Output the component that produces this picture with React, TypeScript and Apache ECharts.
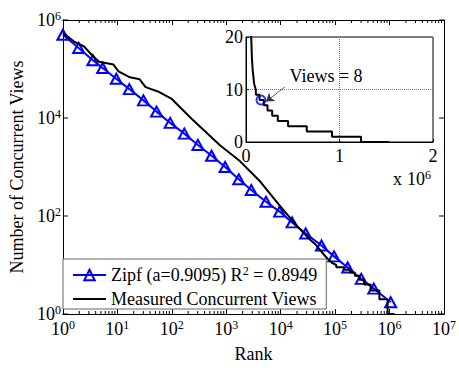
import React, { useEffect, useRef } from 'react';
import * as echarts from 'echarts';

const FONT = "'Liberation Serif', 'Times New Roman', Times, serif";

// Zipf fit (markers)
const zipfRank = [1, 1.95, 3.55, 5.37, 9.55, 16.6, 30.2, 52.5, 93.3, 170, 302, 537, 955, 1700, 2880, 5370, 9550, 16200, 28800, 56200, 95500, 170000, 302000, 513000, 1047000];
const zipfViews = [501000, 269000, 151000, 105000, 63100, 38900, 22900, 13500, 7940, 4790, 2820, 1700, 1000, 562, 339, 195, 123, 74, 44, 25, 15, 8.9, 5.2, 3.3, 1.74];

// Measured concurrent views
const measuredRank = [1, 1.6, 2.45, 3.3, 4.6, 8.5, 10.5, 17, 25.7, 33, 59, 100, 151, 229, 389, 776, 1780, 4070, 9120, 18600, 35500, 42700, 63100, 72400, 88000, 105000, 105000, 145000, 145000, 190000, 190000, 230000, 230000, 280000, 280000, 340000, 340000, 450000, 450000, 650000, 650000, 920000, 920000, 1230000, 1230000, 1530000];
const measuredViews = [550000, 363000, 288000, 200000, 141000, 123000, 89000, 67600, 61700, 42700, 33900, 24500, 15500, 9770, 5620, 2750, 1320, 525, 174, 68, 32, 27, 16, 13.5, 11, 10, 9, 9, 8, 8, 7, 7, 6, 6, 5, 5, 4, 4, 3, 3, 2, 2, 1, 1, 0, 0];

// highlighted point in the inset
const highlightRank = [160000];
const highlightViews = [8];

// ticks
const minorMultipliers = [2, 3, 4, 5, 6, 7, 8, 9];
const decades = [1, 10, 100, 1000, 10000, 100000, 1000000];
const yTickValues = [1, 100, 10000, 1000000];
const insetXTicks = ['0', '1', '2'];

const zipfName = 'Zipf (a=0.9095) R² = 0.8949';
const measuredName = 'Measured Concurrent Views';

const rich = {
  b: { fontFamily: FONT, fontSize: 18, lineHeight: 20, color: '#000' },
  t: { fontFamily: FONT, fontSize: 18, lineHeight: 20, color: '#000' },
  x: { fontFamily: FONT, fontSize: 18, lineHeight: 20, color: '#000', padding: [0, 5, 0, 0] },
  s: { fontFamily: FONT, fontSize: 12, lineHeight: 12, verticalAlign: 'top', color: '#000' },
};

function logLabel(v: number) {
  const e = Math.round(Math.log10(v));
  return `{b|10}{s|${e}}`;
}

export default function App() {
  const ref = useRef<HTMLDivElement>(null);
  useEffect(() => {
    if (!ref.current) return;
    const chart = echarts.init(ref.current, null, { renderer: 'svg' });

    const zipfData = zipfRank.map((r, i) => [r, zipfViews[i]]);
    const measuredMain = measuredRank
      .map((r, i) => [r, measuredViews[i]])
      .filter((p) => p[1] > 0);
    const measuredInset = measuredRank
      .map((r, i) => [r, measuredViews[i]])
      .filter((p) => p[0] >= 35000);
    const minorTicks: number[][] = [];
    decades.forEach((d) => minorMultipliers.forEach((m) => minorTicks.push([m * d, 1])));

    const option: any = {
      animation: false,
      backgroundColor: '#fff',
      textStyle: { fontFamily: FONT },
      grid: [
        { left: 58, top: 20, width: 392, height: 298, show: false },
        {
          left: 246, top: 37, width: 187, height: 105, show: true,
          backgroundColor: '#fff', borderColor: '#000', borderWidth: 1, z: 3,
        },
      ],
      xAxis: [
        {
          type: 'log', gridIndex: 0, min: 1, max: 1e7, position: 'bottom',
          name: 'Rank', nameLocation: 'middle', nameGap: 31,
          nameTextStyle: { fontFamily: FONT, fontSize: 18, color: '#000' },
          axisLine: { lineStyle: { color: '#000', width: 1 } },
          axisTick: { inside: true, length: 5, lineStyle: { color: '#000' } },
          splitLine: { show: false },
          axisLabel: { formatter: logLabel, rich, margin: 5 },
        },
        {
          type: 'log', gridIndex: 0, min: 1, max: 1e7, position: 'top',
          axisLine: { lineStyle: { color: '#000', width: 1 } },
          axisTick: { inside: true, length: 5, lineStyle: { color: '#000' } },
          splitLine: { show: false },
          axisLabel: { show: false },
        },
        {
          type: 'value', gridIndex: 1, min: 0, max: 2000000, interval: 1000000,
          axisLine: { lineStyle: { color: '#000', width: 1 } },
          axisTick: { inside: true, length: 3, lineStyle: { color: '#000' } },
          splitLine: { show: true, lineStyle: { type: 'dotted', color: '#777', width: 1 } },
          axisLabel: {
            formatter: (v: number) => insetXTicks[Math.round(v / 1000000)] ?? '',
            fontFamily: FONT, fontSize: 18, color: '#000', margin: 5,
          },
          z: 4,
        },
      ],
      yAxis: [
        {
          type: 'log', gridIndex: 0, min: 1, max: 1e6, position: 'left',
          name: 'Number of Concurrent Views', nameLocation: 'middle', nameGap: 34,
          nameTextStyle: { fontFamily: FONT, fontSize: 18, color: '#000' },
          axisLine: { lineStyle: { color: '#000', width: 1 } },
          axisTick: { show: false },
          splitLine: { show: false },
          axisLabel: {
            formatter: (v: number) => {
              const e = Math.round(Math.log10(v));
              return e % 2 === 0 ? logLabel(v) : '';
            },
            rich, margin: 2,
          },
        },
        {
          type: 'log', gridIndex: 0, min: 1, max: 1e6, position: 'right',
          axisLine: { lineStyle: { color: '#000', width: 1 } },
          axisTick: { show: false },
          splitLine: { show: false },
          axisLabel: { show: false },
        },
        {
          type: 'value', gridIndex: 1, min: 0, max: 20, interval: 10,
          axisLine: { show: true, lineStyle: { color: '#000', width: 1 } },
          axisTick: { show: true, inside: true, length: 3, lineStyle: { color: '#000' } },
          splitLine: { show: true, lineStyle: { type: 'dotted', color: '#777', width: 1 } },
          axisLabel: { fontFamily: FONT, fontSize: 18, color: '#000', margin: 3 },
          z: 4,
        },
      ],
      legend: {
        data: [
          { name: zipfName },
          { name: measuredName, itemStyle: { opacity: 0 } },
        ],
        orient: 'vertical',
        left: 63,
        top: 259,
        padding: [6, 9, 1, 9],
        itemGap: 6,
        itemWidth: 33,
        itemHeight: 13,
        borderColor: '#666',
        borderWidth: 1,
        backgroundColor: '#fff',
        textStyle: { fontFamily: FONT, fontSize: 18, color: '#000', rich },
        formatter: (name: string) => '{t|' + name.replace('²', '}{s|2}{t|') + '}',
      },
      graphic: [
        {
          type: 'text', left: 393, top: 169, z: 10,
          style: { text: '{x|x}{b|10}{s|6}', rich, fill: '#000' },
        },
      ],
      series: [
        {
          name: zipfName,
          type: 'line',
          xAxisIndex: 0, yAxisIndex: 0,
          data: zipfData,
          symbol: 'triangle',
          symbolSize: [11, 10],
          showAllSymbol: true,
          lineStyle: { color: '#0000ff', width: 2 },
          itemStyle: { color: 'rgba(255,255,255,0)', borderColor: '#0000ff', borderWidth: 2 },
          z: 2,
        },
        {
          name: measuredName,
          type: 'line',
          xAxisIndex: 0, yAxisIndex: 0,
          data: measuredMain,
          symbol: 'none',
          lineStyle: { color: '#000', width: 2 },
          itemStyle: { color: '#000' },
          z: 3,
        },
        {
          name: 'inset',
          type: 'line',
          xAxisIndex: 2, yAxisIndex: 2,
          data: measuredInset,
          symbol: 'none',
          clip: true,
          lineStyle: { color: '#000', width: 2 },
          itemStyle: { color: '#000' },
          z: 5,
        },
        {
          name: 'highlight',
          type: 'scatter',
          xAxisIndex: 2, yAxisIndex: 2,
          data: highlightRank.map((r, i) => [r, highlightViews[i]]),
          symbol: 'circle',
          symbolSize: 9,
          itemStyle: { color: 'rgba(255,255,255,0)', borderColor: '#0000ff', borderWidth: 2 },
          z: 6,
          markLine: {
            silent: true,
            symbol: ['none', 'arrow'],
            symbolSize: 8,
            lineStyle: { color: '#333', width: 0.8, type: 'solid' },
            label: { show: false },
            data: [[{ coord: [417000, 10.5] }, { coord: [214000, 7.7] }]],
          },
          markPoint: {
            silent: true,
            symbol: 'circle',
            symbolSize: 0,
            label: {
              show: true, position: 'inside', formatter: 'Views = 8',
              fontFamily: FONT, fontSize: 18, color: '#000',
            },
            data: [{ coord: [856000, 12.6] }],
          },
        },
        {
          name: 'minorTicks',
          type: 'custom',
          xAxisIndex: 0, yAxisIndex: 0,
          silent: true,
          data: minorTicks,
          renderItem: (params: any, api: any) => {
            const x = api.coord([api.value(0), 1])[0];
            const cs = params.coordSys;
            const bottom = cs.y + cs.height;
            return {
              type: 'group',
              children: [
                { type: 'line', shape: { x1: x, y1: bottom, x2: x, y2: bottom - 3 }, style: { stroke: '#000', lineWidth: 1 } },
                { type: 'line', shape: { x1: x, y1: cs.y, x2: x, y2: cs.y + 3 }, style: { stroke: '#000', lineWidth: 1 } },
              ],
            };
          },
          z: 1,
        },
        {
          name: 'yTicks',
          type: 'custom',
          xAxisIndex: 0, yAxisIndex: 0,
          silent: true,
          data: yTickValues.map((v) => [1, v]),
          renderItem: (params: any, api: any) => {
            const y = api.coord([1, api.value(1)])[1];
            const cs = params.coordSys;
            const right = cs.x + cs.width;
            return {
              type: 'group',
              children: [
                { type: 'line', shape: { x1: cs.x, y1: y, x2: cs.x + 5, y2: y }, style: { stroke: '#000', lineWidth: 1 } },
                { type: 'line', shape: { x1: right, y1: y, x2: right - 5, y2: y }, style: { stroke: '#000', lineWidth: 1 } },
              ],
            };
          },
          z: 1,
        },
      ],
    };

    chart.setOption(option);
    return () => chart.dispose();
  }, []);

  return (
    <div
      ref={ref}
      style={{ position: 'fixed', left: 0, top: 0, width: 459, height: 368, background: '#fff' }}
    />
  );
}
